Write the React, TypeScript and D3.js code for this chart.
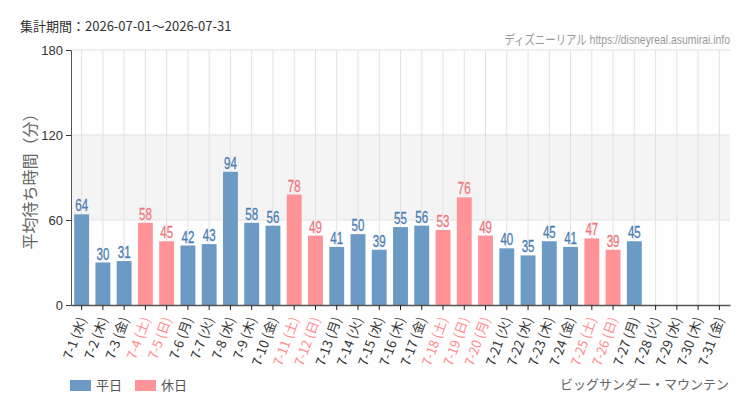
import { useRef, useEffect } from "react";
import * as d3 from "d3";

const days = ["7-1", "7-2", "7-3", "7-4", "7-5", "7-6", "7-7", "7-8", "7-9", "7-10", "7-11", "7-12", "7-13", "7-14", "7-15", "7-16", "7-17", "7-18", "7-19", "7-20", "7-21", "7-22", "7-23", "7-24", "7-25", "7-26", "7-27", "7-28", "7-29", "7-30", "7-31"];
const weekdays = ["水", "木", "金", "土", "日", "月", "火", "水", "木", "金", "土", "日", "月", "火", "水", "木", "金", "土", "日", "月", "火", "水", "木", "金", "土", "日", "月", "火", "水", "木", "金"];
const waits: (number | null)[] = [64, 30, 31, 58, 45, 42, 43, 94, 58, 56, 78, 49, 41, 50, 39, 55, 56, 53, 76, 49, 40, 35, 45, 41, 47, 39, 45, null, null, null, null];
const holidays = ["7-4", "7-5", "7-11", "7-12", "7-18", "7-19", "7-20", "7-25", "7-26"];
const yTicks = [0, 60, 120, 180];

const BLUE = "#6b9ac4";
const PINK = "#ff9398";
const SANS = "'Liberation Sans', 'Noto Sans CJK JP', sans-serif";
const JP = "'Noto Sans CJK JP', sans-serif";

export default function App() {
  const svgRef = useRef<SVGSVGElement>(null);

  useEffect(() => {
    const svg = d3.select(svgRef.current);
    svg.selectAll("*").remove();
    const width = 750;
    const height = 410;
    const m = { left: 71, right: 20, top: 50, bottom: 105 };
    const innerW = 730 - m.left;
    const innerH = 305 - m.top;

    svg.append("rect").attr("width", width).attr("height", height).attr("fill", "#fdfefd");

    const x = d3.scaleBand<string>().domain(days).range([0, innerW]).paddingInner(0.3).paddingOuter(0.15);
    const y = d3.scaleLinear().domain([0, 180]).range([innerH, 0]);
    const g = svg.append("g").attr("transform", `translate(${m.left},${m.top})`);
    const isHol = (d: string) => holidays.includes(d);
    const cx = (d: string) => (x(d) as number) + x.bandwidth() / 2;

    // shaded band 60-120
    g.append("rect").attr("x", 0).attr("width", innerW).attr("y", y(120)).attr("height", y(60) - y(120)).attr("fill", "#f3f4f3");

    // grid
    g.selectAll(".vgrid").data(days).enter().append("line")
      .attr("x1", cx).attr("x2", cx).attr("y1", 0).attr("y2", innerH)
      .attr("stroke", "#e2e2e2").attr("stroke-width", 1);
    g.selectAll(".hgrid").data(yTicks.slice(1)).enter().append("line")
      .attr("x1", 0).attr("x2", innerW).attr("y1", (d) => y(d)).attr("y2", (d) => y(d))
      .attr("stroke", "#e2e2e2").attr("stroke-width", 1);

    const data = days.map((d, i) => ({ d, v: waits[i] })).filter((e) => e.v != null) as { d: string; v: number }[];

    g.selectAll(".bar").data(data).enter().append("rect")
      .attr("x", (e) => x(e.d) as number).attr("width", x.bandwidth())
      .attr("y", (e) => y(e.v)).attr("height", (e) => innerH - y(e.v))
      .attr("fill", (e) => (isHol(e.d) ? PINK : BLUE));

    // value labels, narrowed horizontally
    g.selectAll(".val").data(data).enter().append("text")
      .attr("transform", (e) => `translate(${cx(e.d)},${y(e.v) - 3}) scale(0.72,1)`)
      .attr("text-anchor", "middle").attr("font-family", SANS).attr("font-size", 16)
      .attr("fill", (e) => (isHol(e.d) ? "#f0767e" : "#4a7db4"))
      .attr("stroke", (e) => (isHol(e.d) ? "#f0767e" : "#4a7db4")).attr("stroke-width", 0.3)
      .text((e) => e.v);

    // axes
    const yAxis = g.append("g").call(d3.axisLeft(y).tickValues(yTicks).tickSize(5).tickPadding(3));
    yAxis.selectAll("text").attr("font-family", SANS).attr("font-size", 13).attr("fill", "#333");
    yAxis.select(".domain").attr("stroke", "#555");
    yAxis.selectAll(".tick line").attr("stroke", "#333");

    const xAxis = g.append("g").attr("transform", `translate(0,${innerH})`)
      .call(d3.axisBottom(x).tickSize(5).tickSizeOuter(0));
    xAxis.select(".domain").attr("stroke", "#555").attr("stroke-width", 1.5);
    xAxis.selectAll(".tick line").attr("stroke", "#222");
    xAxis.selectAll(".tick text").remove();

    g.selectAll(".xlab").data(days).enter().append("text")
      .attr("transform", (d) => `translate(${cx(d) + 5},${innerH + 14}) rotate(-70)`)
      .attr("text-anchor", "end").attr("font-family", JP).attr("font-size", 13)
      .attr("fill", (d) => (isHol(d) ? "#ff8a90" : "#333"))
      .text((d, i) => `${d} (${weekdays[i]})`);

    // y title
    svg.append("text")
      .attr("transform", `translate(36,${m.top + innerH / 2}) rotate(-90)`)
      .attr("text-anchor", "middle").attr("font-family", JP).attr("font-size", 16).attr("fill", "#666")
      .text("平均待ち時間（分）");

    // header
    svg.append("text").attr("x", 20).attr("y", 31).attr("font-family", JP).attr("font-size", 13).attr("fill", "#333")
      .text("集計期間：2026-07-01～2026-07-31");
    svg.append("text").attr("transform", "translate(730,44) scale(0.8,1)").attr("text-anchor", "end")
      .attr("font-family", SANS)
      .attr("font-size", 13).attr("fill", "#999").text("ディズニーリアル https://disneyreal.asumirai.info");

    // legend
    const legend = [{ label: "平日", color: BLUE }, { label: "休日", color: PINK }];
    const lg = svg.append("g").attr("transform", "translate(70,380)");
    legend.forEach((l, i) => {
      lg.append("rect").attr("x", i * 65).attr("y", 0).attr("width", 21).attr("height", 11).attr("fill", l.color);
      lg.append("text").attr("x", i * 65 + 26).attr("y", 10).attr("font-family", JP).attr("font-size", 13)
        .attr("fill", "#555").text(l.label);
    });

    svg.append("text").attr("x", 729).attr("y", 389).attr("text-anchor", "end").attr("font-family", JP)
      .attr("font-size", 13).attr("fill", "#666").text("ビッグサンダー・マウンテン");
  }, []);

  return <svg ref={svgRef} width={750} height={410} style={{ position: "absolute", left: 0, top: 0 }} />;
}
